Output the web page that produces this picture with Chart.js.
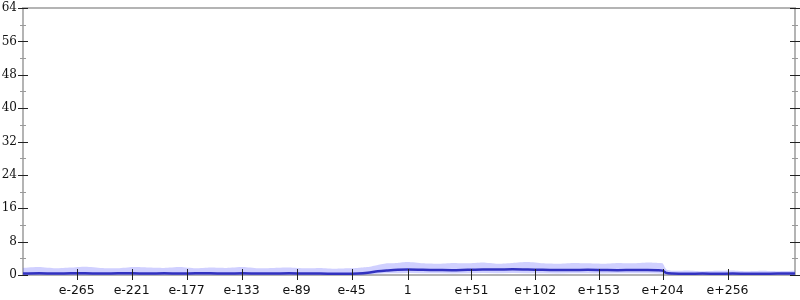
<!DOCTYPE html>
<html>
<head>
<meta charset="utf-8">
<script src="https://cdn.jsdelivr.net/npm/chart.js@4"></script>
<style>
  html, body { margin: 0; padding: 0; background: #fff; }
  #wrap { width: 800px; height: 300px; }
</style>
</head>
<body>
<div id="wrap"><canvas id="c"></canvas></div>
<script>
// offsets from the centre sample ("1")
const xs = [-308,-295,-282,-270,-258,-245,-232,-220,-208,-195,-182,-170,-158,-145,-132,-120,-108,-95,-82,-70,-58,-48,-40,-32,-24,-16,-8,0,12,24,36,48,60,72,84,96,108,120,132,144,156,168,180,192,200,204,207,212,224,236,248,260,272,284,296,310];
const meanVals = [0.35,0.4,0.35,0.4,0.4,0.35,0.4,0.4,0.35,0.4,0.35,0.4,0.4,0.35,0.4,0.35,0.35,0.4,0.35,0.35,0.3,0.3,0.35,0.55,0.9,1.1,1.25,1.3,1.25,1.2,1.15,1.25,1.3,1.3,1.35,1.3,1.25,1.2,1.2,1.25,1.2,1.15,1.2,1.2,1.15,1.05,0.5,0.35,0.3,0.35,0.3,0.35,0.3,0.3,0.35,0.35];
const upperVals = [1.7,1.9,1.6,1.8,2.0,1.7,1.6,1.9,1.8,1.7,1.9,1.6,1.8,1.7,1.9,1.6,1.7,1.8,1.6,1.7,1.5,1.6,1.7,1.9,2.4,2.8,2.9,3.1,2.8,2.7,2.9,2.8,3.0,2.7,2.9,3.1,2.8,2.7,2.9,2.8,2.7,2.9,2.8,3.0,2.9,2.8,1.3,1.0,1.1,0.9,1.0,1.1,0.9,1.0,0.9,1.0];
const lowerVals = [0,0,0,0,0,0,0,0,0,0,0,0,0,0,0,0,0,0,0,0,0,0,0,0.1,0.3,0.4,0.4,0.45,0.4,0.4,0.35,0.4,0.45,0.4,0.45,0.4,0.4,0.35,0.4,0.4,0.35,0.4,0.4,0.4,0.35,0.3,0.1,0,0,0,0,0,0,0,0,0];

const xTicks = [-265,-221,-177,-133,-89,-45,0,51,102,153,204,256];
const xLabels = ['e-265','e-221','e-177','e-133','e-89','e-45','1','e+51','e+102','e+153','e+204','e+256'];
const yTicks = [0,8,16,24,32,40,48,56,64];
const yMinor = [4,12,20,28,36,44,52,60];

const pts = arr => xs.map((x, i) => ({ x: x, y: arr[i] }));

const frame = {
  id: 'frame',
  beforeDatasetsDraw(chart) {
    const { ctx, chartArea: a } = chart;
    ctx.save();
    ctx.strokeStyle = '#b4b4b4';
    ctx.lineWidth = 2;
    ctx.strokeRect(a.left, a.top, a.right - a.left, a.bottom - a.top);
    ctx.restore();
  },
  afterDatasetsDraw(chart) {
    const { ctx, chartArea: a, scales } = chart;
    const y = scales.y, x = scales.x;
    ctx.save();
    ctx.lineWidth = 1;
    ctx.strokeStyle = '#999';
    yMinor.forEach(v => {
      const p = Math.round(y.getPixelForValue(v)) + 0.5;
      [a.left, a.right].forEach(ax => {
        ctx.beginPath(); ctx.moveTo(ax - 3, p); ctx.lineTo(ax + 3, p); ctx.stroke();
      });
    });
    ctx.strokeStyle = '#222';
    yTicks.forEach(v => {
      const p = Math.round(y.getPixelForValue(v)) + 0.5;
      [a.left, a.right].forEach(ax => {
        ctx.beginPath(); ctx.moveTo(ax - 5, p); ctx.lineTo(ax + 5, p); ctx.stroke();
      });
    });
    xTicks.forEach(v => {
      const p = Math.round(x.getPixelForValue(v)) + 0.5;
      ctx.beginPath(); ctx.moveTo(p, a.bottom - 6); ctx.lineTo(p, a.bottom + 5); ctx.stroke();
    });
    ctx.restore();
  }
};

new Chart(document.getElementById('c'), {
  type: 'line',
  data: {
    datasets: [
      {
        label: 'lower',
        data: pts(lowerVals),
        borderWidth: 0,
        pointRadius: 0,
        fill: false,
      },
      {
        label: 'spread',
        data: pts(upperVals),
        borderWidth: 0,
        pointRadius: 0,
        backgroundColor: 'rgba(100, 100, 255, 0.3)',
        fill: '-1',
        tension: 0.2,
      },
      {
        label: 'mean',
        data: pts(meanVals),
        borderColor: 'rgb(30, 30, 165)',
        borderWidth: 2.5,
        pointRadius: 0,
        fill: false,
        tension: 0.3,
      },
    ],
  },
  options: {
    responsive: true,
    maintainAspectRatio: false,
    animation: false,
    layout: { padding: { top: 8, right: 5 } },
    plugins: {
      legend: { display: false },
      tooltip: { enabled: false },
    },
    scales: {
      x: {
        type: 'linear',
        min: -308,
        max: 310,
        afterBuildTicks: s => { s.ticks = xTicks.map(v => ({ value: v })); },
        afterFit: s => { s.height = 25; s.paddingLeft = 0; s.paddingRight = 0; },
        grid: { display: false, drawTicks: false },
        border: { display: false },
        ticks: {
          padding: 8,
          color: '#111',
          maxRotation: 0,
          autoSkip: false,
          font: { family: 'DejaVu Sans', size: 12.5 },
          callback: (v, i) => xLabels[i],
        },
      },
      y: {
        min: 0,
        max: 64,
        afterBuildTicks: s => { s.ticks = yTicks.map(v => ({ value: v })); },
        afterFit: s => { s.width = 23; s.paddingTop = 0; s.paddingBottom = 0; },
        grid: { display: false, drawTicks: false },
        border: { display: false },
        ticks: {
          padding: 6,
          color: '#111',
          font: { family: 'DejaVu Serif', size: 12 },
        },
      },
    },
  },
  plugins: [frame],
});
</script>
</body>
</html>
